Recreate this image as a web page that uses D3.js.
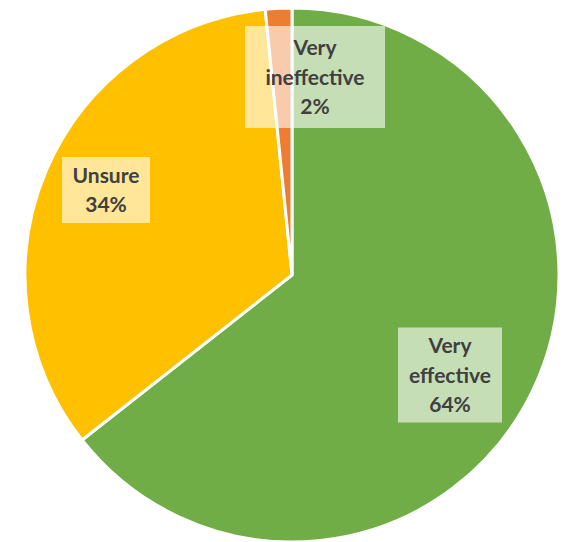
<!DOCTYPE html>
<html><head><meta charset="utf-8">
<script src="https://cdn.jsdelivr.net/npm/d3@7"></script>
<style>html,body{margin:0;padding:0;background:#fff;}</style>
</head><body>
<svg id="chart" width="566" height="542"></svg>
<script>
const categories = ["Very effective", "Unsure", "Very ineffective"];
const values = [64.4, 34.0, 1.6];
const labelLines = [["Very", "effective", "64%"], ["Unsure", "34%"], ["Very", "ineffective", "2%"]];
const colors = ["#70AD47", "#FFC000", "#ED7D31"];

const svg = d3.select("#chart");
const cx = 292, cy = 275, r = 267;
const g = svg.append("g").attr("transform", `translate(${cx},${cy})`);
const pie = d3.pie().sort(null).value(d => d.v);
const data = categories.map((c, i) => ({c, v: values[i], i}));
const arcs = pie(data);
const arc = d3.arc().innerRadius(0).outerRadius(r);
g.selectAll("path").data(arcs).enter().append("path")
  .attr("d", arc)
  .attr("fill", d => colors[d.data.i])
  .attr("stroke", "#fff").attr("stroke-width", 3).attr("stroke-linejoin", "round");

// label box layout: center x, center y, width, height
const labelBoxes = [[450, 375, 104, 95], [106, 190, 88, 66], [315, 77, 140, 102]];
const lineH = 29.5;
const fontSize = 21;
arcs.forEach((a) => {
  const i = a.data.i;
  const lines = labelLines[i];
  const [lx, ly, bw, bh] = labelBoxes[i];
  const lg = svg.append("g");
  lg.append("rect")
    .attr("x", lx - bw / 2).attr("y", ly - bh / 2)
    .attr("width", bw).attr("height", bh)
    .attr("fill", "#fff").attr("fill-opacity", 0.6);
  const t = lg.append("text")
    .attr("text-anchor", "middle")
    .attr("font-family", "Lato, 'Open Sans', sans-serif")
    .attr("font-weight", "bold")
    .attr("font-size", fontSize)
    .attr("fill", "#404040");
  const n = lines.length;
  lines.forEach((s, j) => {
    t.append("tspan").attr("x", lx)
      .attr("y", ly + (j - (n - 1) / 2) * lineH + fontSize * 0.36)
      .text(s);
  });
});
</script>
</body></html>
